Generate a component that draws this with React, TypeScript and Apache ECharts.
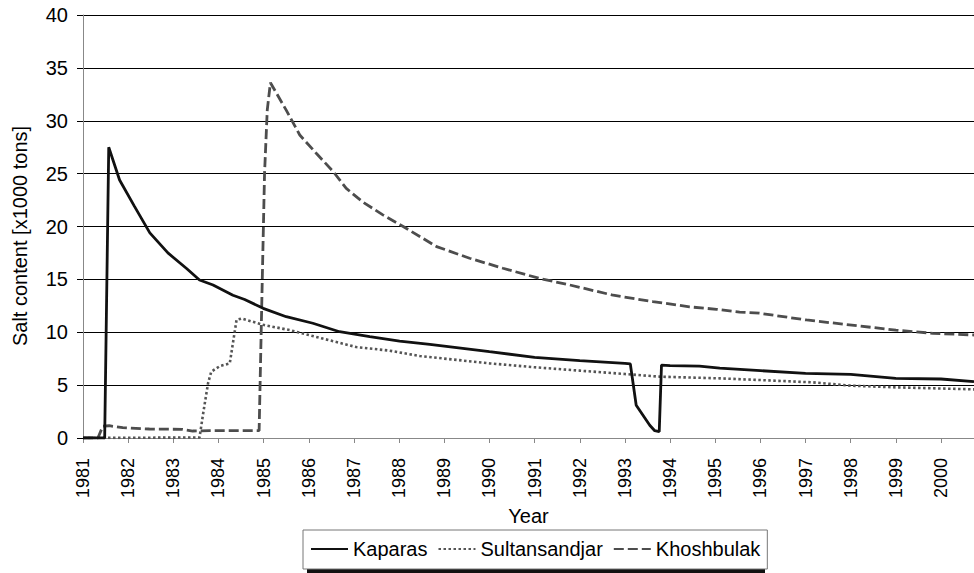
import React, { useEffect, useRef } from "react";
import * as echarts from "echarts";

// Year (decimal) and salt content [x1000 tons]
const kaparasYears = [1981.0, 1981.48, 1981.57, 1981.81, 1982.14, 1982.48, 1982.88, 1983.3, 1983.58, 1983.88, 1984.32, 1984.58, 1984.99, 1985.5, 1986.09, 1986.68, 1987.35, 1988.01, 1988.68, 1990.0, 1991.0, 1992.0, 1993.0, 1993.12, 1993.25, 1993.55, 1993.66, 1993.76, 1993.81, 1994.0, 1994.65, 1995.1, 1996.0, 1997.0, 1998.0, 1999.0, 2000.0, 2000.73];
const kaparasValues = [0, 0, 27.5, 24.4, 21.9, 19.4, 17.5, 16.0, 14.94, 14.47, 13.5, 13.1, 12.26, 11.47, 10.85, 10.05, 9.58, 9.17, 8.86, 8.16, 7.63, 7.31, 7.06, 7.0, 3.1, 1.2, 0.69, 0.6, 6.9, 6.85, 6.8, 6.6, 6.37, 6.12, 6.02, 5.64, 5.58, 5.33];

const sultanYears = [1981.0, 1983.58, 1983.66, 1983.77, 1983.84, 1984.03, 1984.25, 1984.4, 1984.51, 1984.99, 1985.58, 1986.31, 1987.05, 1987.79, 1988.46, 1990.0, 1991.0, 1992.0, 1993.0, 1993.77, 1995.1, 1996.0, 1997.17, 1998.0, 1999.0, 2000.73];
const sultanValues = [0, 0.05, 2.3, 5.2, 6.27, 6.8, 7.06, 11.16, 11.3, 10.7, 10.2, 9.4, 8.6, 8.26, 7.75, 7.06, 6.69, 6.37, 6.05, 5.8, 5.64, 5.48, 5.26, 4.95, 4.79, 4.6];

const khoshYears = [1981.0, 1981.33, 1981.44, 1981.58, 1981.88, 1982.47, 1983.2, 1983.43, 1983.8, 1984.9, 1984.97, 1985.02, 1985.08, 1985.15, 1985.5, 1985.8, 1986.17, 1986.54, 1986.83, 1987.2, 1987.64, 1988.09, 1988.83, 1989.56, 1990.3, 1991.1, 1991.78, 1992.74, 1993.62, 1994.43, 1995.03, 1995.54, 1995.98, 1997.02, 1997.97, 1999.0, 1999.82, 2000.73];
const khoshValues = [0, 0, 1.13, 1.16, 0.98, 0.85, 0.82, 0.66, 0.69, 0.7, 15, 25, 31, 33.6, 31.0, 28.65, 26.9, 25.2, 23.6, 22.3, 21.1, 20.0, 18.1, 17.0, 16.05, 15.1, 14.47, 13.5, 12.9, 12.4, 12.17, 11.9, 11.8, 11.16, 10.7, 10.2, 9.9, 9.74];

const seriesNames = ["Kaparas", "Sultansandjar", "Khoshbulak"];
const xMin = 1981;
const xMax = 2000.73;
const yMin = 0;
const yMax = 40;

const pairs = (xs: number[], ys: number[]) => xs.map((x, i) => [x, ys[i]]);

const FONT = "'Liberation Sans', Arial, Helvetica, sans-serif";

export default function App() {
  const ref = useRef<HTMLDivElement>(null);
  useEffect(() => {
    if (!ref.current) return;
    const chart = echarts.init(ref.current, null, { renderer: "svg" });
    chart.setOption({
      animation: false,
      backgroundColor: "#fff",
      textStyle: { fontFamily: FONT, color: "#000" },
      grid: { left: 83, right: 0, top: 15, bottom: 135, containLabel: false },
      xAxis: {
        type: "value",
        min: xMin,
        max: xMax,
        interval: 1,
        name: "Year",
        nameLocation: "middle",
        nameGap: 68,
        nameTextStyle: { fontSize: 20, color: "#000", fontFamily: FONT },
        axisLine: { show: true, lineStyle: { color: "#888", width: 1 } },
        axisTick: { show: true, length: 5, lineStyle: { color: "#888" } },
        splitLine: { show: false },
        axisLabel: {
          rotate: 90,
          margin: 20,
          fontSize: 18,
          color: "#000",
          fontFamily: FONT,
          formatter: (v: number) => (Math.abs(v - Math.round(v)) < 1e-6 ? String(Math.round(v)) : ""),
        },
      },
      yAxis: {
        type: "value",
        min: yMin,
        max: yMax,
        interval: 5,
        axisLine: { show: true, lineStyle: { color: "#888", width: 1 } },
        axisTick: { show: true, length: 6, lineStyle: { color: "#000" } },
        splitLine: { show: true, lineStyle: { color: "#000", width: 1 } },
        axisLabel: { margin: 15, fontSize: 20, color: "#000", fontFamily: FONT },
      },
      legend: {
        left: 303,
        top: 530,
        padding: [9, 7, 10, 7],
        itemGap: 10,
        itemWidth: 37,
        itemHeight: 4,
        backgroundColor: "#fff",
        borderColor: "#777",
        borderWidth: 1,
        itemStyle: { color: "rgba(0,0,0,0)", borderWidth: 0, opacity: 0 },
        textStyle: { fontSize: 20, color: "#000", fontFamily: FONT },
        data: seriesNames,
      },
      graphic: [
        {
          type: "rect",
          z: 0,
          shape: { x: 307, y: 534, width: 458, height: 39 },
          style: { fill: "#111" },
        },
        {
          type: "text",
          x: 20,
          y: 236,
          rotation: Math.PI / 2,
          style: {
            text: "Salt content [x1000 tons]",
            font: `20px ${FONT}`,
            fill: "#000",
            align: "center",
            verticalAlign: "middle",
          },
        },
      ],
      series: [
        {
          name: seriesNames[0],
          type: "line",
          data: pairs(kaparasYears, kaparasValues),
          symbol: "none",
          showSymbol: false,
          lineStyle: { color: "#111", width: 2.8, type: "solid" },
          itemStyle: { color: "#111" },
          z: 4,
        },
        {
          name: seriesNames[1],
          type: "line",
          data: pairs(sultanYears, sultanValues),
          symbol: "none",
          showSymbol: false,
          lineStyle: { color: "#555", width: 2.6, type: [2.5, 2.5] },
          itemStyle: { color: "#555" },
          z: 3,
        },
        {
          name: seriesNames[2],
          type: "line",
          data: pairs(khoshYears, khoshValues),
          symbol: "none",
          showSymbol: false,
          lineStyle: { color: "#4d4d4d", width: 2.8, type: [10, 4] },
          itemStyle: { color: "#4d4d4d" },
          z: 2,
        },
      ],
    });
    return () => chart.dispose();
  }, []);
  return (
    <div
      ref={ref}
      style={{ position: "fixed", left: 0, top: 0, width: 974, height: 573, background: "#fff" }}
    />
  );
}
